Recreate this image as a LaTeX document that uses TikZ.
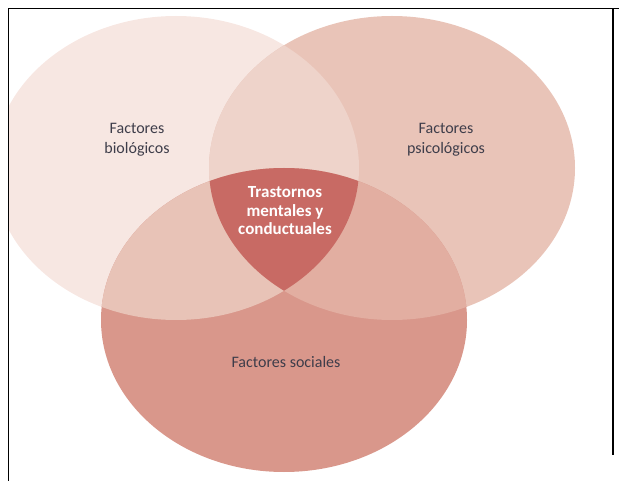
\documentclass[tikz,border=0pt]{standalone}
\usepackage{fontspec}
\setmainfont{Carlito}
\usepackage{tikz}
\usetikzlibrary{positioning}

\definecolor{biofill}{HTML}{F7E7E2}
\definecolor{psifill}{HTML}{E9C4B8}
\definecolor{socfill}{HTML}{D9978B}
\definecolor{biopsi}{HTML}{EED3CA}
\definecolor{biosoc}{HTML}{E8C3B7}
\definecolor{psisoc}{HTML}{E2AEA1}
\definecolor{core}{HTML}{C86A64}
\definecolor{labeltxt}{HTML}{3E3D4A}

\begin{document}
\begin{tikzpicture}[
  x=1pt,y=-1pt,
  blob/.style={x radius=183pt,y radius=152pt},
  factor/.style={align=center,text=labeltxt,font=\fontsize{16}{20}\selectfont,inner sep=0pt},
  corelbl/.style={align=center,text=white,font=\fontsize{17}{18.5}\selectfont\bfseries,inner sep=0pt},
  frame/.style={line width=1.3pt,black},
]
\useasboundingbox (0,0) rectangle (619,481);

% ---- ellipse centres --------------------------------------------------
\coordinate (bio) at (176,168);
\coordinate (psi) at (392,168);
\coordinate (soc) at (284,320);

% ---- single sets ------------------------------------------------------
\begin{scope}
  \clip (8,8) rectangle (619,481);
  \fill[biofill] (bio) ellipse [blob];
\end{scope}
\fill[psifill] (psi) ellipse [blob];
\fill[socfill] (soc) ellipse [blob];

% ---- pairwise overlaps ------------------------------------------------
\begin{scope}
  \clip (bio) ellipse [blob];
  \fill[biopsi] (psi) ellipse [blob];
\end{scope}
\begin{scope}
  \clip (bio) ellipse [blob];
  \fill[biosoc] (soc) ellipse [blob];
\end{scope}
\begin{scope}
  \clip (psi) ellipse [blob];
  \fill[psisoc] (soc) ellipse [blob];
\end{scope}

% ---- triple overlap ---------------------------------------------------
\begin{scope}
  \clip (bio) ellipse [blob];
  \clip (psi) ellipse [blob];
  \fill[core] (soc) ellipse [blob];
\end{scope}

% ---- labels -----------------------------------------------------------
\node[factor] (lbio) at (137,140) {Factores\\biológicos};
\node[factor] (lpsi) at (446,140) {Factores\\psicológicos};
\node[factor] (lsoc) at (286,362) {Factores sociales};
\node[corelbl] (lcore) at (285,211) {Trastornos\\mentales y\\conductuales};

% ---- frame ------------------------------------------------------------
\draw[frame] (8.5,481) -- (8.5,8.5) -- (619,8.5);
\draw[frame] (613,8.5) -- (613,455);

\end{tikzpicture}
\end{document}
